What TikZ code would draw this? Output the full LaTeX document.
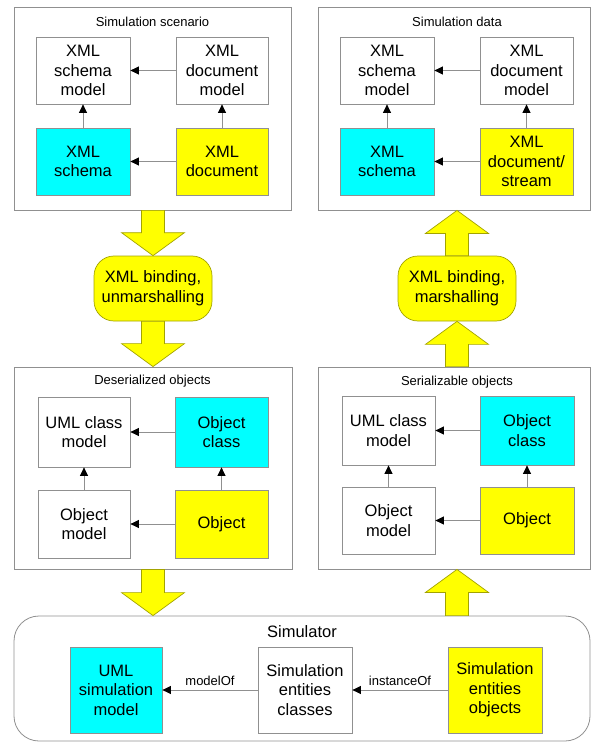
\documentclass[tikz,border=0pt]{standalone}
\usepackage{fontspec}
\setmainfont{Liberation Sans}
\usetikzlibrary{arrows.meta,calc}
\definecolor{cyanbox}{HTML}{00FFFF}
\definecolor{yelbox}{HTML}{FFFF00}
\definecolor{edgegray}{HTML}{909090}
\definecolor{arrowedge}{HTML}{A3A300}
\newcommand\vblock[2]{\draw[yarrow] let \p1=(#1), \p2=(#2), \n1={ifthenelse(\y2<\y1,1,-1)} in
  (\x1-11.5pt,\y1) -- (\x1-11.5pt,\y2+\n1*23pt) -- (\x1-31.5pt,\y2+\n1*23pt) -- (\x1,\y2)
  -- (\x1+31.5pt,\y2+\n1*23pt) -- (\x1+11.5pt,\y2+\n1*23pt) -- (\x1+11.5pt,\y1) -- cycle;}
\begin{document}
\begin{tikzpicture}[x=1pt,y=-1pt,
  cont/.style={draw=edgegray, line width=0.8pt, inner sep=0pt},
  box/.style={draw=edgegray, line width=0.8pt, fill=white, inner sep=0pt, align=center,
    font=\fontsize{16.5}{19.5}\selectfont},
  cyanb/.style={box, fill=cyanbox},
  yelb/.style={box, fill=yelbox},
  sA/.style={minimum width=94pt, minimum height=67pt},
  sB/.style={minimum width=92pt, minimum height=70pt},
  sC/.style={minimum width=92pt, minimum height=68pt},
  sD/.style={minimum width=93pt, minimum height=69pt},
  sE/.style={minimum width=93pt, minimum height=67pt},
  sF/.style={minimum width=93pt, minimum height=86pt},
  ttl/.style={font=\fontsize{13}{15}\selectfont, inner sep=0pt},
  lbl/.style={font=\fontsize{13}{15}\selectfont, inner sep=0pt},
  conn/.style={draw=edgegray, line width=0.8pt, -{Triangle[length=8.5pt,width=8pt,black]}},
  yarrow/.style={draw=arrowedge, fill=yelbox, line width=0.7pt, line join=miter},
  bind/.style={draw=arrowedge, fill=yelbox, line width=0.7pt, rounded corners=20pt,
    minimum width=118pt, minimum height=65pt, align=center, inner sep=0pt,
    font=\fontsize{16.5}{20}\selectfont},
]
\useasboundingbox (0,0) rectangle (595,743);

% ---------- containers ----------
\node[cont, minimum width=277pt, minimum height=203pt] (scen) at (152.5,108.5) {};
\node[cont, minimum width=272pt, minimum height=203pt] (data) at (454,108.5) {};
\node[cont, minimum width=278pt, minimum height=202pt] (deser) at (153,468) {};
\node[cont, minimum width=272pt, minimum height=202pt] (ser) at (454,468) {};
\node[cont, rounded corners=25pt, minimum width=576pt, minimum height=125pt] (sim) at (302,678.5) {};

\node[ttl] (tscen) at (152.5,22) {Simulation scenario};
\node[ttl] (tdata) at (457,22) {Simulation data};
\node[ttl] (tdeser) at (152.5,381) {Deserialized objects};
\node[ttl] (tser) at (457,382) {Serializable objects};
\node[font=\fontsize{16.5}{19}\selectfont, inner sep=0pt] (tsim) at (302,632) {Simulator};

% ---------- Simulation scenario ----------
\node[box, sA] (s1) at (83,70.5) {XML\\schema\\model};
\node[box, sA, minimum width=92pt] (s2) at (222,70.5) {XML\\document\\model};
\node[cyanb, sA] (s3) at (83,161.5) {XML\\schema};
\node[yelb, sA, minimum width=92pt] (s4) at (222,161.5) {XML\\document};
\draw[conn] (s2) -- (s1);
\draw[conn] (s4) -- (s3);
\draw[conn] (s3) -- (s1);
\draw[conn] (s4) -- (s2);

% ---------- Simulation data ----------
\node[box, sA] (d1) at (387,70.5) {XML\\schema\\model};
\node[box, sA, minimum width=93pt] (d2) at (526.5,70.5) {XML\\document\\model};
\node[cyanb, sA] (d3) at (387,161.5) {XML\\schema};
\node[yelb, sA, minimum width=93pt] (d4) at (526.5,161.5) {XML\\document/\\stream};
\draw[conn] (d2) -- (d1);
\draw[conn] (d4) -- (d3);
\draw[conn] (d3) -- (d1);
\draw[conn] (d4) -- (d2);

% ---------- Deserialized objects ----------
\node[box, sB] (e1) at (84,432) {UML class\\model};
\node[cyanb, sB, minimum width=93pt] (e2) at (221.5,432) {Object\\class};
\node[box, sC] (e3) at (84,524) {Object\\model};
\node[yelb, sC, minimum width=93pt] (e4) at (221.5,524) {Object};
\draw[conn] (e2) -- (e1);
\draw[conn] (e4) -- (e3);
\draw[conn] (e3) -- (e1);
\draw[conn] (e4) -- (e2);

% ---------- Serializable objects ----------
\node[box, sD] (f1) at (388.5,430.5) {UML class\\model};
\node[cyanb, sD, minimum width=94pt] (f2) at (527,430.5) {Object\\class};
\node[box, sE] (f3) at (388.5,520.5) {Object\\model};
\node[yelb, sE, minimum width=94pt] (f4) at (527,520.5) {Object};
\draw[conn] (f2) -- (f1);
\draw[conn] (f4) -- (f3);
\draw[conn] (f3) -- (f1);
\draw[conn] (f4) -- (f2);

% ---------- Simulator ----------
\node[cyanb, sF, minimum width=92pt] (uml) at (116,690) {UML\\simulation\\model};
\node[box, sF, minimum width=94pt] (cls) at (305,690) {Simulation\\entities\\classes};
\node[yelb, sF, minimum width=94pt] (obj) at (495,690) {Simulation\\entities\\objects};
\draw[conn] (cls) -- node[lbl, above=4pt] {modelOf} (uml);
\draw[conn] (obj) -- node[lbl, above=4pt] {instanceOf} (cls);

% ---------- binding ----------
\node[bind] (bindL) at (153,288.5) {XML binding,\\unmarshalling};
\node[bind] (bindR) at (457,288.5) {XML binding,\\marshalling};

\vblock{bindL |- scen.south}{bindL.north}
\vblock{bindL.south}{bindL |- deser.north}
\vblock{bindR.north}{bindR |- data.south}
\vblock{bindR |- ser.north}{bindR.south}
\vblock{bindL |- deser.south}{bindL |- sim.north}
\vblock{bindR |- sim.north}{bindR |- ser.south}
\end{tikzpicture}
\end{document}
